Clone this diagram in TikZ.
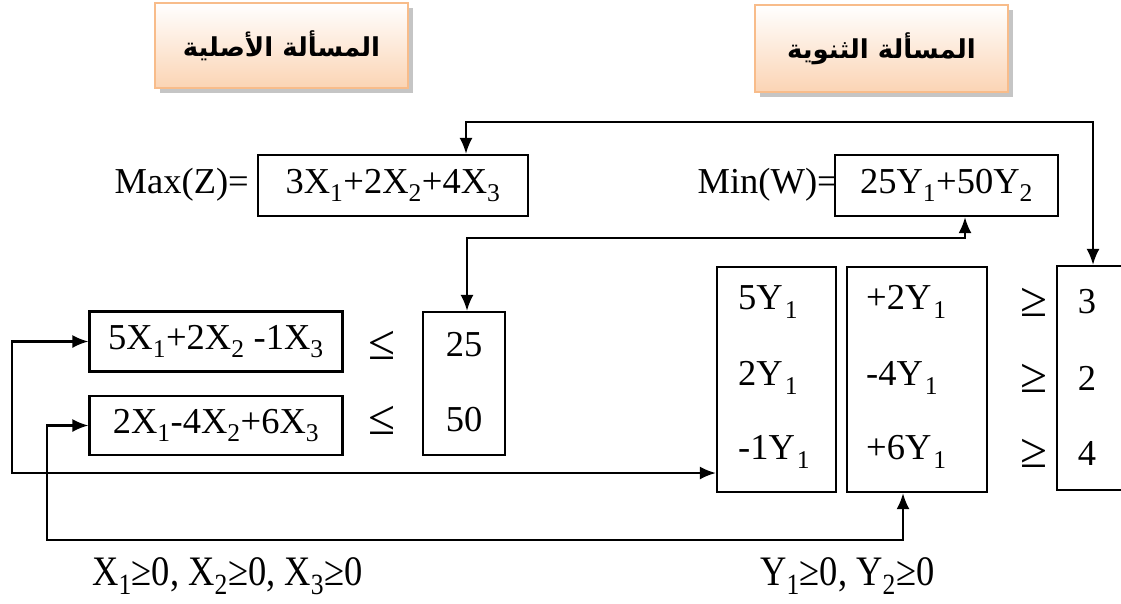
\documentclass[tikz,border=0pt]{standalone}
\usepackage{fontspec}
\usepackage{graphicx}
\setmainfont{Liberation Serif}
\newfontfamily\arabicfont[Script=Arabic]{DejaVu Sans}
\TeXXeTstate=1
\usetikzlibrary{arrows.meta,shadows,calc}
\definecolor{peach}{HTML}{FBD4B4}
\definecolor{peachline}{HTML}{F8BC8A}
\newcommand\sbs[1]{\textsubscript{#1}}
\newcommand\bigrel[1]{\scalebox{1.35}{#1}}
\begin{document}
\begin{tikzpicture}[x=1pt,y=-1pt,
  box/.style={draw, line width=2.2pt, inner sep=0pt},
  ttl/.style={draw=peachline, line width=2.5pt, top color=white, bottom color=peach,
    minimum width=253pt, minimum height=85pt,
    drop shadow={shadow xshift=5pt, shadow yshift=-5pt, fill=black!45},
    font=\arabicfont\bfseries\fontsize{26}{30}\selectfont},
  txt/.style={inner sep=0pt, font=\fontsize{36.5}{40}\selectfont},
  arr/.style={line width=2.2pt, {Latex[length=16pt,width=13pt]}-{Latex[length=16pt,width=13pt]}}
]
\useasboundingbox (0,0) rectangle (1121,603);
\clip (0,0) rectangle (1121,603);

% titles
\node[ttl] (tl) at (281.5,45.5) {\beginR المسألة الأصلية\endR};
\node[ttl, minimum height=87pt] (tr) at (881.5,48.5) {\beginR المسألة الثنوية\endR};

% objective functions
\node[box, txt, minimum width=270pt, minimum height=61pt] (maxbox) at (393,185.5) {3X\sbs1+2X\sbs2+4X\sbs3};
\node[txt, anchor=east] (maxlbl) at (249,185) {Max(Z)=};
\node[box, txt, minimum width=223pt, minimum height=61pt] (minbox) at (946.5,185.5) {25Y\sbs1+50Y\sbs2};
\node[txt, anchor=east] (minlbl) at (838,185) {Min(W)=};

% primal constraints
\node[box, txt, minimum width=253pt, minimum height=60pt] (c1box) at (216,341.5) {5X\sbs1+2X\sbs2 -1X\sbs3};
\node[box, txt, minimum width=253pt, minimum height=59pt] (c2box) at (216,425.5) {2X\sbs1-4X\sbs2+6X\sbs3};
\node[txt] (le1) at (382,345) {\bigrel{≤}};
\node[txt] (le2) at (382,420) {\bigrel{≤}};
\node[box, minimum width=82pt, minimum height=143pt] (rhs) at (464,383.5) {};
\node[txt] (r1) at (464,345) {25};
\node[txt] (r2) at (464,420) {50};

% dual constraints
\node[box, minimum width=119pt, minimum height=225pt] (dualA) at (776.5,379.5) {};
\node[box, minimum width=140pt, minimum height=225pt] (dualB) at (917,379.5) {};
\node[box, minimum width=80pt, minimum height=224pt] (dualC) at (1097,378) {};
\node[txt, anchor=west] (a1) at (738,302) {5Y\kern2pt\sbs1};
\node[txt, anchor=west] (a2) at (738,378) {2Y\kern2pt\sbs1};
\node[txt, anchor=west] (a3) at (738,452) {-1Y\kern2pt\sbs1};
\node[txt, anchor=west] (b1t) at (866,302) {+2Y\kern2pt\sbs1};
\node[txt, anchor=west] (b2t) at (866,378) {-4Y\kern2pt\sbs1};
\node[txt, anchor=west] (b3t) at (866,452) {+6Y\kern2pt\sbs1};
\node[txt] (ge1) at (1034,302) {\bigrel{≥}};
\node[txt] (ge2) at (1034,378) {\bigrel{≥}};
\node[txt] (ge3) at (1034,453) {\bigrel{≥}};
\node[txt] (n1) at (1087,302) {3};
\node[txt] (n2) at (1087,378) {2};
\node[txt] (n3) at (1087,453) {4};

% non-negativity
\node[txt, anchor=west] (xnn) at (92,576) {\scalebox{1}[1.15]{X\sbs1≥0, X\sbs2≥0, X\sbs3≥0}};
\node[txt, anchor=west] (ynn) at (760,576) {\scalebox{1}[1.15]{Y\sbs1≥0, Y\sbs2≥0}};

% connectors
\coordinate (t1) at (466,122);
\coordinate (t2) at (1093,122);
\draw[arr] (maxbox.north -| t1) -- (t1) -- (t2) -- (dualC.north -| t2);
\coordinate (s1) at (467,238);
\coordinate (s2) at (965,238);
\draw[arr] (rhs.north -| s1) -- (s1) -- (s2) -- (minbox.south -| s2);
\coordinate (p1) at (12,341.5);
\coordinate (p2) at (12,473);
\draw[arr] (c1box.west) -- (p1) -- (p2) -- (dualA.west |- p2);
\coordinate (q1) at (47,425.5);
\coordinate (q2) at (47,540);
\coordinate (q3) at (903,540);
\draw[arr] (c2box.west) -- (q1) -- (q2) -- (q3) -- (dualB.south -| q3);
\end{tikzpicture}
\end{document}
